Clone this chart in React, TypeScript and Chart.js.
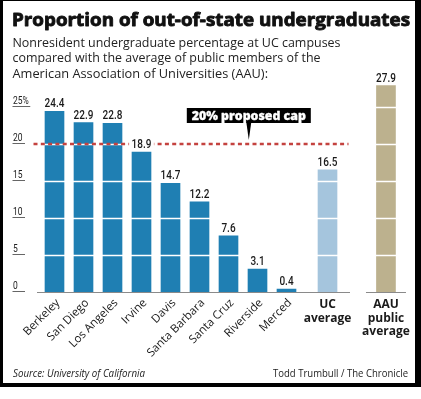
import React, { useEffect, useRef } from 'react';
import { Chart, registerables } from 'chart.js';

Chart.register(...registerables);

// ---- data ----
const categories = [
  'Berkeley', 'San Diego', 'Los Angeles', 'Irvine', 'Davis',
  'Santa Barbara', 'Santa Cruz', 'Riverside', 'Merced',
  'UC\naverage', 'AAU\npublic\naverage',
];
const values = [24.4, 22.9, 22.8, 18.9, 14.7, 12.2, 7.6, 3.1, 0.4, 16.5, 27.9];
const groups = ['campus', 'campus', 'campus', 'campus', 'campus', 'campus', 'campus', 'campus', 'campus', 'uc', 'aau'];
const yTicks = [0, 5, 10, 15, 20, 25];
const capValue = 20;
const capLabel = '20% proposed cap';
const titleText = 'Proportion of out-of-state undergraduates';
const subtitleLines = [
  'Nonresident undergraduate percentage at UC campuses',
  'compared with the average of public members of the',
  'American Association of Universities (AAU):',
];
const sourceText = 'Source: University of California';
const creditText = 'Todd Trumbull / The Chronicle';

// ---- layout / style ----
const groupShift: Record<string, number> = { campus: 0, uc: 0.414, aau: 1.43 };
const groupColor: Record<string, string> = { campus: '#1f7fb3', uc: '#a5c5dd', aau: '#bcb18e' };
const SANS = '"Open Sans", "Noto Sans", sans-serif';
const COND = 'Roboto, "Noto Sans", sans-serif';

function fitText(ctx: CanvasRenderingContext2D, text: string, x: number, y: number, font: string, width: number | null, align: CanvasTextAlign = 'left', squeeze = 1, stroke = 0) {
  ctx.save();
  ctx.font = font;
  ctx.textAlign = align;
  ctx.textBaseline = 'alphabetic';
  const w = ctx.measureText(text).width;
  ctx.translate(x, y);
  if (width) ctx.scale(width / w, 1);
  else if (squeeze !== 1) ctx.scale(squeeze, 1);
  ctx.fillText(text, 0, 0);
  if (stroke > 0) {
    ctx.strokeStyle = ctx.fillStyle as string;
    ctx.lineWidth = stroke;
    ctx.lineJoin = 'round';
    ctx.strokeText(text, 0, 0);
  }
  ctx.restore();
}

const decor = {
  id: 'decor',
  beforeDraw(chart: any) {
    const ctx = chart.ctx as CanvasRenderingContext2D;
    ctx.save();
    ctx.fillStyle = '#ffffff';
    ctx.fillRect(0, 0, chart.width, chart.height);
    ctx.fillStyle = '#000000';
    ctx.fillRect(0, 0, 421, 387);
    ctx.fillStyle = '#ffffff';
    ctx.fillRect(3, 1, 412, 382);
    ctx.restore();
  },
  afterDatasetsDraw(chart: any) {
    const ctx = chart.ctx as CanvasRenderingContext2D;
    const { chartArea } = chart;
    const ys = chart.scales.y;
    const xs = chart.scales.x;
    const bars = chart.getDatasetMeta(0).data;
    const y0 = ys.getPixelForValue(0);

    ctx.save();
    // white grid lines across bars
    ctx.strokeStyle = '#ffffff';
    ctx.lineWidth = 1.3;
    yTicks.filter((t) => t > 0).forEach((t) => {
      const py = Math.round(ys.getPixelForValue(t)) + 0.5;
      ctx.beginPath();
      ctx.moveTo(chartArea.left, py);
      ctx.lineTo(chartArea.right, py);
      ctx.stroke();
    });

    // baselines
    const ucIdx = groups.indexOf('uc');
    const aauIdx = groups.indexOf('aau');
    ctx.strokeStyle = '#8a8a8a';
    ctx.lineWidth = 1;
    ctx.beginPath();
    ctx.moveTo(bars[0].x - 17.5, Math.round(y0) + 0.5);
    ctx.lineTo(bars[ucIdx].x + 22.5, Math.round(y0) + 0.5);
    ctx.moveTo(bars[aauIdx].x - 20, Math.round(y0) + 0.5);
    ctx.lineTo(bars[aauIdx].x + 20, Math.round(y0) + 0.5);
    ctx.stroke();

    // y tick labels with underline
    yTicks.forEach((t, i) => {
      const py = ys.getPixelForValue(t);
      const label = i === yTicks.length - 1 ? `${t}%` : `${t}`;
      ctx.fillStyle = '#222';
      fitText(ctx, label, 13, py - 3, `10px ${COND}`, null, 'left', 0.85);
      ctx.font = `10px ${COND}`;
      const w = Math.max(ctx.measureText(label).width * 0.85 + 2, 12.5);
      ctx.strokeStyle = '#666';
      ctx.lineWidth = 1;
      ctx.beginPath();
      ctx.moveTo(12.5, Math.round(py) - 0.5);
      ctx.lineTo(12.5 + w, Math.round(py) - 0.5);
      ctx.stroke();
    });

    // cap dashed line
    const pyCap = ys.getPixelForValue(capValue);
    ctx.strokeStyle = '#c4423f';
    ctx.lineWidth = 2.4;
    ctx.setLineDash([4, 3.3]);
    ctx.beginPath();
    ctx.moveTo(bars[0].x - 21, pyCap);
    ctx.lineTo(bars[ucIdx].x + 21, pyCap);
    ctx.stroke();
    ctx.setLineDash([]);

    // cap label box with pointer
    const boxCx = xs.getPixelForValue(6.7);
    ctx.fillStyle = '#000';
    ctx.fillRect(boxCx - 62, pyCap - 36, 124, 15);
    ctx.beginPath();
    ctx.moveTo(boxCx - 2.5, pyCap - 22);
    ctx.lineTo(boxCx + 2.5, pyCap - 22);
    ctx.lineTo(boxCx, pyCap - 4);
    ctx.closePath();
    ctx.fill();
    ctx.fillStyle = '#fff';
    fitText(ctx, capLabel, boxCx, pyCap - 24.5, `800 11.5px ${SANS}`, 114, 'center', 1, 0.3);

    // value labels (white knock-out behind text)
    bars.forEach((b: any, i: number) => {
      const txt = values[i].toFixed(1);
      ctx.font = `500 13.5px ${COND}`;
      const w = ctx.measureText(txt).width * 0.74;
      ctx.fillStyle = '#ffffff';
      ctx.fillRect(b.x - w / 2 - 2.5, b.y - 14.5, w + 5, 11);
      ctx.fillStyle = '#1a1a1a';
      fitText(ctx, txt, b.x, b.y - 4, `500 13.5px ${COND}`, null, 'center', 0.74);
    });

    // x labels
    bars.forEach((b: any, i: number) => {
      const lines = categories[i].split('\n');
      if (groups[i] === 'campus') {
        ctx.save();
        ctx.translate(b.x + 3.5, y0 + 9);
        ctx.rotate(-Math.PI / 4);
        ctx.font = `11.5px ${SANS}`;
        ctx.textAlign = 'right';
        ctx.textBaseline = 'middle';
        ctx.fillStyle = '#1a1a1a';
        ctx.fillText(lines[0], 0, 0);
        ctx.restore();
      } else {
        ctx.fillStyle = '#1a1a1a';
        lines.forEach((ln, k) => {
          ctx.font = `bold 12px ${SANS}`;
          ctx.textAlign = 'center';
          ctx.textBaseline = 'alphabetic';
          ctx.fillText(ln, b.x, y0 + 16 + k * 13.7);
        });
      }
    });

    // headings
    ctx.fillStyle = '#111';
    fitText(ctx, titleText, 12, 25.5, `bold 18.5px ${SANS}`, 398, 'left', 1, 0.9);
    ctx.fillStyle = '#222';
    const subW = [328, 308, 255.5];
    subtitleLines.forEach((ln, k) => {
      fitText(ctx, ln, 12.5, 46.5 + k * 15.5, `13px ${SANS}`, subW[k]);
    });
    fitText(ctx, sourceText, 13, 377, `italic 10px ${SANS}`, 132);
    fitText(ctx, creditText, 408, 377, `10px ${SANS}`, 135, 'right');
    ctx.restore();
  },
};

export default function App() {
  const ref = useRef<HTMLCanvasElement | null>(null);
  useEffect(() => {
    if (!ref.current) return;
    const chart = new Chart(ref.current, {
      type: 'bar',
      data: {
        datasets: [
          {
            data: values.map((v, i) => ({ x: i + groupShift[groups[i]], y: v })),
            backgroundColor: groups.map((g) => groupColor[g]),
            barThickness: 19,
            borderWidth: 0,
          },
        ],
      },
      options: {
        responsive: false,
        animation: false,
        layout: { padding: { left: 40, right: 18.5, top: 84.8, bottom: 107 } },
        plugins: { legend: { display: false }, tooltip: { enabled: false } },
        scales: {
          x: { type: 'linear', min: -0.5, max: 12, offset: false, display: false },
          y: { min: 0, max: 28, display: false },
        },
      },
      plugins: [decor],
    });
    return () => chart.destroy();
  }, []);
  return (
    <div style={{ position: 'fixed', left: 0, top: 0, width: 421, height: 399, background: '#fff' }}>
      <canvas ref={ref} width={421} height={399} style={{ width: 421, height: 399, display: 'block' }} />
    </div>
  );
}
